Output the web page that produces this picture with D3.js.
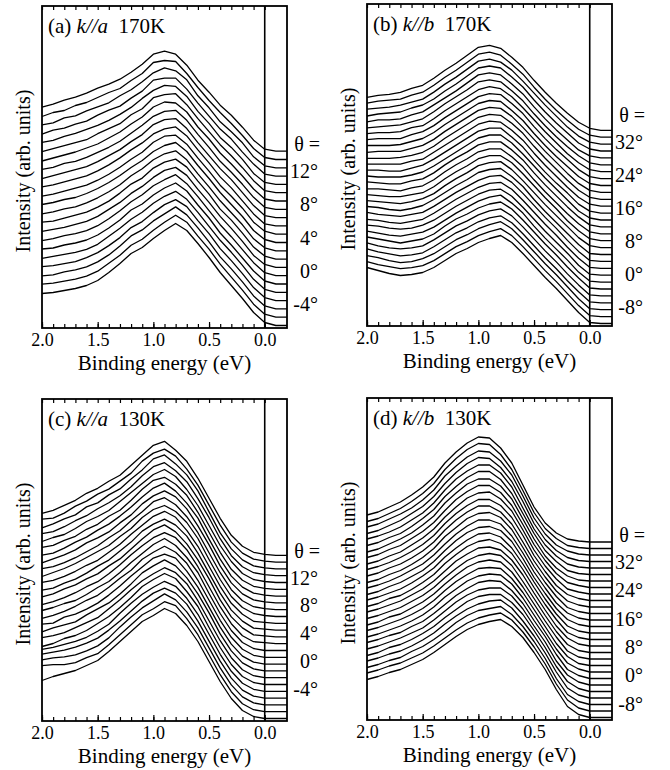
<!DOCTYPE html>
<html>
<head>
<meta charset="utf-8">
<script src="https://cdnjs.cloudflare.com/ajax/libs/d3/7.8.5/d3.min.js"></script>
<style>
  body { margin: 0; background: #fff; }
  svg, svg text { font-family: "Liberation Serif", "Times New Roman", serif; }
  .frame { fill: none; stroke: #000; stroke-width: 1.8; }
  .zero { stroke: #000; stroke-width: 1.6; }
  .spec { fill: none; stroke: #000; stroke-width: 1.3; stroke-linejoin: round; }
  .tick line { stroke: #000; stroke-width: 1.2; }
</style>
</head>
<body>
<div id="chart"></div>
<script>
// binding energy grid (eV) of every spectrum below
var energies = [2.0, 1.9, 1.8, 1.7, 1.6, 1.5, 1.4, 1.3, 1.2, 1.1, 1.0, 0.9, 0.8, 0.7, 0.6, 0.5, 0.4, 0.3, 0.2, 0.1, 0.0, -0.1, -0.2];
var energyTicks = [2.0, 1.5, 1.0, 0.5, 0.0];

// intensities (arb. units), listed top spectrum first
var spectraA = [
  [44,47,51,54,58,63,67,72,79,87,97,100,97,86,71,59,46,36,24,11,2,0,0],
  [43,47,49,54,57,62,67,71,79,86,97,99,98,86,72,59,47,36,24,11,2,0,0],
  [43,45,50,52,57,61,65,72,78,86,95,100,97,88,72,60,46,36,25,11,2,0,0],
  [42,46,48,52,55,61,66,70,78,85,96,98,98,87,73,60,47,37,24,12,2,0,0],
  [42,44,48,51,55,59,64,70,77,86,94,99,98,88,73,61,47,37,25,11,2,0,0],
  [41,44,47,50,53,59,64,69,78,84,95,98,99,88,74,61,48,37,25,12,2,0,0],
  [40,43,46,49,53,57,63,69,77,84,94,99,98,89,74,62,48,37,25,12,2,0,0],
  [40,42,46,48,52,57,62,68,76,84,93,98,99,89,75,62,48,37,25,12,2,0,0],
  [39,42,45,48,51,56,62,68,76,83,93,98,99,89,75,62,49,38,25,12,2,0,0],
  [39,41,44,47,50,55,61,68,76,83,92,97,99,90,76,63,49,38,25,12,2,0,0],
  [38,40,43,46,49,54,60,67,75,82,92,98,99,90,76,63,49,38,26,12,3,0,0],
  [38,40,43,45,49,54,60,67,75,82,91,97,100,91,77,64,50,38,26,12,3,0,0],
  [37,39,42,44,48,53,59,66,75,82,91,97,100,91,77,64,50,38,26,12,3,0,0],
  [37,38,41,44,47,52,58,66,75,81,91,97,100,92,78,65,50,39,26,12,3,0,0],
  [36,38,40,43,46,51,58,65,74,81,90,97,100,92,78,65,51,39,26,12,3,0,0],
  [35,37,40,42,45,50,57,65,74,81,90,96,101,92,79,65,51,39,26,13,3,0,0],
  [35,36,39,41,44,49,56,64,74,80,89,96,101,93,79,66,51,39,26,13,3,0,0],
  [34,36,38,40,43,48,56,64,73,80,89,96,101,93,80,66,52,40,27,13,3,0,0],
  [34,35,37,39,43,48,55,63,73,79,88,96,101,94,80,67,52,40,27,13,3,0,0],
  [33,34,37,39,42,47,54,63,73,79,88,95,102,94,81,67,52,40,27,13,3,0,0],
  [33,34,36,38,41,46,54,62,72,78,87,95,102,95,81,68,53,40,27,13,3,0,0],
  [32,33,35,37,40,45,53,62,72,78,87,95,102,95,82,68,53,40,27,13,3,0,0]
];

var spectraB = [
  [33,35,36,38,42,45,52,60,67,75,83,85,82,73,63,50,38,27,17,8,2,0,0],
  [34,36,37,38,42,45,52,60,67,75,83,85,82,73,63,50,38,27,17,8,2,0,0],
  [35,36,37,39,42,45,52,60,67,75,83,85,82,74,63,51,39,28,17,8,2,0,0],
  [35,37,38,39,43,46,52,60,67,75,83,85,83,74,64,51,39,28,18,8,2,0,0],
  [36,38,38,39,43,46,53,60,67,75,83,85,83,74,64,51,39,28,18,8,2,0,0],
  [37,38,39,40,43,46,53,61,68,75,83,85,83,74,64,51,39,28,18,9,2,0,0],
  [38,39,39,40,44,46,53,61,68,75,82,85,83,75,64,52,40,29,18,9,2,0,0],
  [39,40,40,40,44,47,53,61,68,75,82,85,84,75,65,52,40,29,19,9,2,0,0],
  [40,40,40,41,44,47,53,61,68,75,82,85,84,75,65,52,40,29,19,9,2,0,0],
  [40,41,41,41,44,47,53,61,68,75,82,85,84,76,65,53,41,30,19,9,2,0,0],
  [41,41,41,42,44,47,53,61,68,75,82,85,84,76,66,53,41,30,19,9,2,0,0],
  [42,42,42,42,45,47,54,61,68,75,82,85,84,76,66,53,41,30,19,9,2,0,0],
  [43,43,42,42,45,48,54,61,68,75,82,85,85,76,66,53,41,30,20,9,2,0,0],
  [44,43,43,43,45,48,54,61,68,75,82,85,85,77,66,54,42,31,20,9,2,0,0],
  [45,44,43,43,46,48,54,62,69,75,82,85,85,77,67,54,42,31,20,10,2,0,0],
  [45,45,44,43,46,48,54,62,69,75,82,85,85,77,67,54,42,31,20,10,2,0,0],
  [46,45,44,44,46,48,54,62,69,75,82,85,85,78,67,55,43,32,20,10,2,0,0],
  [47,46,45,44,46,49,54,62,69,75,82,85,86,78,67,55,43,32,21,10,2,0,0],
  [48,47,45,44,46,49,55,62,69,75,82,85,86,78,68,55,43,32,21,10,1,0,0],
  [49,47,46,45,47,49,55,62,69,75,81,85,86,79,68,56,44,33,21,10,1,0,0],
  [49,48,46,45,47,49,55,62,69,75,81,85,86,79,68,56,44,33,21,10,1,0,0],
  [50,49,47,46,47,50,55,62,69,75,81,85,86,79,68,56,44,33,22,10,1,0,0],
  [51,49,47,46,48,50,55,62,69,75,81,85,87,79,69,56,44,33,22,10,1,0,0],
  [52,50,48,46,48,50,55,63,70,75,81,85,87,80,69,57,45,34,22,11,1,0,0],
  [53,50,48,47,48,50,56,63,70,75,81,85,87,80,69,57,45,34,22,11,1,0,0],
  [54,51,49,47,48,50,56,63,70,75,81,85,87,80,69,57,45,34,22,11,1,0,0],
  [54,52,49,47,48,51,56,63,70,75,81,85,88,81,70,58,46,35,23,11,1,0,0],
  [55,52,50,48,49,51,56,63,70,75,81,85,88,81,70,58,46,35,23,11,1,0,0],
  [56,53,50,48,49,51,56,63,70,75,81,85,88,81,70,58,46,35,23,11,1,0,0]
];

var spectraC = [
  [42,45,50,55,62,67,74,80,90,100,110,114,105,94,77,57,37,20,9,3,1,0,0],
  [43,44,49,56,61,68,73,81,89,101,109,113,106,93,77,57,37,20,9,3,1,0,0],
  [41,45,50,54,62,66,74,80,90,99,110,114,105,94,78,57,36,20,9,3,1,0,0],
  [42,44,49,55,60,67,73,80,89,100,109,113,105,94,77,58,37,20,9,3,1,0,0],
  [41,45,48,54,61,66,72,81,90,99,108,113,106,93,77,57,37,21,9,3,1,0,0],
  [42,44,49,53,60,65,73,79,89,100,109,112,105,94,77,57,37,20,9,3,1,0,0],
  [41,43,48,54,59,66,72,80,89,99,108,113,105,93,78,57,37,20,9,3,1,0,0],
  [40,44,48,53,60,65,71,80,88,99,107,112,106,94,77,58,37,20,9,3,1,0,0],
  [41,43,47,52,58,64,72,79,89,98,108,112,105,93,77,57,37,20,9,3,1,0,0],
  [40,44,48,53,59,65,71,80,88,99,107,111,105,94,78,57,37,20,9,3,1,0,0],
  [41,43,47,52,58,63,71,79,89,98,107,112,106,93,77,57,37,20,9,2,1,0,0],
  [40,42,47,51,57,64,70,79,88,99,106,111,105,94,77,57,37,20,9,2,1,0,0],
  [40,43,48,52,58,63,71,78,88,98,107,112,105,93,77,58,37,20,9,2,1,0,0],
  [39,42,46,51,57,62,70,79,89,98,106,111,106,94,77,57,37,20,8,2,1,0,0],
  [40,43,47,50,56,63,69,78,88,97,106,112,105,93,78,57,37,20,8,2,0,0,0],
  [39,42,46,51,57,62,70,79,87,98,105,111,105,94,77,57,37,20,8,2,0,0,0],
  [40,41,47,50,55,61,69,78,88,97,106,110,106,93,77,57,37,20,8,2,0,0,0],
  [39,43,46,49,56,62,68,77,87,98,105,111,105,93,77,58,37,20,8,2,0,0,0],
  [40,42,45,50,55,60,69,78,88,97,104,110,105,94,77,57,37,20,8,2,0,0,0],
  [38,41,46,49,54,61,68,77,87,98,105,111,106,93,78,57,37,20,8,2,0,0,0],
  [42,44,47,50,54,60,67,78,88,97,104,110,105,93,77,57,37,20,8,2,0,0,0],
  [44,46,48,51,55,60,68,77,87,97,105,110,105,94,77,57,37,20,8,2,0,0,0],
  [45,47,48,50,54,59,67,78,88,97,104,111,105,93,77,57,37,20,8,2,0,0,0],
  [46,47,47,49,54,58,67,77,87,97,103,110,106,93,77,57,37,20,8,2,0,0,0],
  [38,42,45,48,53,58,67,77,87,97,103,110,105,93,77,57,37,20,8,2,0,0,0]
];

var spectraD = [
  [27,30,35,40,47,55,65,79,90,99,105,104,94,79,57,35,19,9,3,1,0,0,0],
  [27,30,35,40,47,55,65,79,90,99,105,104,94,79,58,36,20,10,3,1,0,0,0],
  [28,31,36,41,47,55,65,79,89,98,104,103,94,80,59,37,21,10,4,1,0,0,0],
  [28,31,36,41,48,55,65,78,89,98,104,103,94,80,60,38,22,11,4,1,0,0,0],
  [29,32,36,41,48,55,65,78,89,97,103,103,95,81,60,39,23,12,4,1,0,0,0],
  [29,32,37,41,48,56,65,78,88,97,103,103,95,81,61,41,24,13,4,1,0,0,0],
  [29,32,37,42,48,56,65,78,88,97,102,102,95,82,62,42,25,13,5,1,0,0,0],
  [30,33,38,42,49,56,65,77,88,96,102,102,95,82,63,43,27,14,5,2,0,0,0],
  [30,33,38,42,49,56,65,77,87,96,101,102,95,83,64,44,28,15,5,2,0,0,0],
  [31,34,38,43,49,56,65,77,87,95,101,101,95,83,65,45,29,15,6,2,0,0,0],
  [31,34,39,43,49,56,65,77,87,95,101,101,95,83,65,46,30,16,6,2,0,0,0],
  [31,34,39,43,49,56,65,77,86,95,100,101,96,84,66,47,31,17,6,2,0,0,0],
  [32,35,39,44,50,56,65,76,86,94,100,100,96,84,67,48,32,17,7,2,0,0,0],
  [32,35,40,44,50,56,65,76,86,94,99,100,96,85,68,49,33,18,7,2,0,0,0],
  [33,36,40,44,50,57,65,76,85,93,99,100,96,85,69,51,34,19,7,2,0,0,0],
  [33,36,41,44,50,57,65,76,85,93,98,100,96,86,70,52,35,20,7,2,0,0,0],
  [34,37,41,45,51,57,65,75,85,92,98,99,96,86,71,53,36,20,8,2,0,0,0],
  [34,37,41,45,51,57,65,75,84,92,97,99,97,87,71,54,37,21,8,2,0,0,0],
  [34,37,42,45,51,57,65,75,84,92,97,99,97,87,72,55,38,22,8,2,0,0,0],
  [35,38,42,46,51,57,65,75,84,91,97,98,97,87,73,56,39,22,9,2,0,0,0],
  [35,38,42,46,51,57,65,75,83,91,96,98,97,88,74,57,40,23,9,3,0,0,0],
  [36,39,43,46,52,57,65,74,83,90,96,98,97,88,75,58,42,24,9,3,0,0,0],
  [36,39,43,47,52,57,65,74,83,90,95,97,97,89,76,59,43,24,10,3,0,0,0],
  [36,39,44,47,52,58,65,74,82,90,95,97,97,89,77,61,44,25,10,3,0,0,0],
  [37,40,44,47,52,58,65,74,82,89,94,97,98,90,77,62,45,26,10,3,0,0,0],
  [37,40,44,47,53,58,65,73,82,89,94,96,98,90,78,63,46,26,10,3,0,0,0],
  [38,41,45,48,53,58,65,73,81,88,93,96,98,91,79,64,47,27,11,3,0,0,0],
  [38,41,45,48,53,58,65,73,81,88,93,96,98,91,80,65,48,28,11,3,0,0,0]
];

// emission angle labels and the angle range spanned by the stack (bottom, top)
var thetaTicksA = [12, 8, 4, 0, -4];
var thetaTicksB = [32, 24, 16, 8, 0, -8];
var thetaRangeA = [-6.6, 14.4];
var thetaRangeB = [-11.9, 34.8];
var thetaRangeC = [-8.3, 15.2];
var thetaRangeD = [-11.9, 37.6];

var panels = [
  {tag: "(a)", dir: "a", temp: "170K", spectra: spectraA, step: 8.3, ticks: thetaTicksA, range: thetaRangeA, left: 42, top: 6},
  {tag: "(b)", dir: "b", temp: "170K", spectra: spectraB, step: 6.9, ticks: thetaTicksB, range: thetaRangeB, left: 367, top: 4},
  {tag: "(c)", dir: "a", temp: "130K", spectra: spectraC, step: 6.8, ticks: thetaTicksA, range: thetaRangeC, left: 42, top: 399},
  {tag: "(d)", dir: "b", temp: "130K", spectra: spectraD, step: 6.5, ticks: thetaTicksB, range: thetaRangeD, left: 367, top: 398}
];

var W = 245, H = 322;

var svg = d3.select("#chart").append("svg")
    .attr("width", 670)
    .attr("height", 770);

var x = d3.scaleLinear().domain([2.0, -0.2]).range([0, W]);
var y = d3.scaleLinear().domain([-2.5, 319.5]).range([H, 0]);
var minorTicks = d3.range(0, 21).map(function(i) { return 2.0 - i * 0.1; });

panels.forEach(function(p) {
    var g = svg.append("g")
        .attr("transform", "translate(" + p.left + "," + p.top + ")");
    var n = p.spectra.length;

    // minor + major ticks, bottom and top, pointing inward
    g.append("g")
        .attr("transform", "translate(0," + H + ")")
        .call(d3.axisBottom(x).tickValues(minorTicks).tickSizeInner(-4).tickSizeOuter(0).tickFormat(""))
        .call(function(a) { a.select(".domain").remove(); });
    g.append("g")
        .call(d3.axisTop(x).tickValues(minorTicks).tickSizeInner(-4).tickSizeOuter(0).tickFormat(""))
        .call(function(a) { a.select(".domain").remove(); });

    var xAxis = g.append("g")
        .attr("transform", "translate(0," + H + ")")
        .call(d3.axisBottom(x).tickValues(energyTicks).tickSizeInner(-6).tickSizeOuter(0)
            .tickPadding(5).tickFormat(d3.format(".1f")));
    xAxis.select(".domain").remove();
    xAxis.attr("font-family", null).attr("font-size", null);
    xAxis.selectAll("text")
        .attr("fill", "#000")
        .style("font-size", "18px");

    // spectra
    p.spectra.forEach(function(vals, i) {
        var off = (n - 1 - i) * p.step;
        var line = d3.line()
            .x(function(d, j) { return x(energies[j]); })
            .y(function(d) { return y(d + off); });
        g.append("path")
            .datum(vals)
            .attr("class", "spec")
            .attr("d", line);
    });

    // Fermi level line and frame
    g.append("line")
        .attr("class", "zero")
        .attr("x1", x(0)).attr("x2", x(0))
        .attr("y1", 0).attr("y2", H);
    g.append("rect")
        .attr("class", "frame")
        .attr("width", W)
        .attr("height", H);

    // theta labels on the right
    var th = d3.scaleLinear().domain(p.range).range([y(0), y((n - 1) * p.step)]);
    g.selectAll(".th")
        .data(p.ticks)
        .enter().append("text")
        .attr("x", W + 31)
        .attr("y", function(d) { return th(d); })
        .attr("dy", "0.35em")
        .attr("text-anchor", "end")
        .style("font-size", "20px")
        .text(function(d) { return d + "\u00b0"; });
    g.append("text")
        .attr("x", W + 33)
        .attr("y", th(p.ticks[0]) - 27)
        .attr("dy", "0.35em")
        .attr("text-anchor", "end")
        .style("font-size", "20px")
        .text("\u03b8 =");

    // title
    var t = g.append("text")
        .attr("x", 6)
        .attr("y", 27)
        .attr("xml:space", "preserve")
        .style("font-size", "21px");
    t.append("tspan").text(p.tag + " ");
    t.append("tspan").style("font-style", "italic").text("k//" + p.dir);
    t.append("tspan").text("  " + p.temp);

    // axis labels
    g.append("text")
        .attr("x", W / 2)
        .attr("y", H + 42)
        .attr("text-anchor", "middle")
        .style("font-size", "21px")
        .text("Binding energy (eV)");
    g.append("text")
        .attr("transform", "translate(-12," + (H / 2 + 4) + ") rotate(-90)")
        .attr("text-anchor", "middle")
        .style("font-size", "20px")
        .text("Intensity (arb. units)");
});
</script>
</body>
</html>
